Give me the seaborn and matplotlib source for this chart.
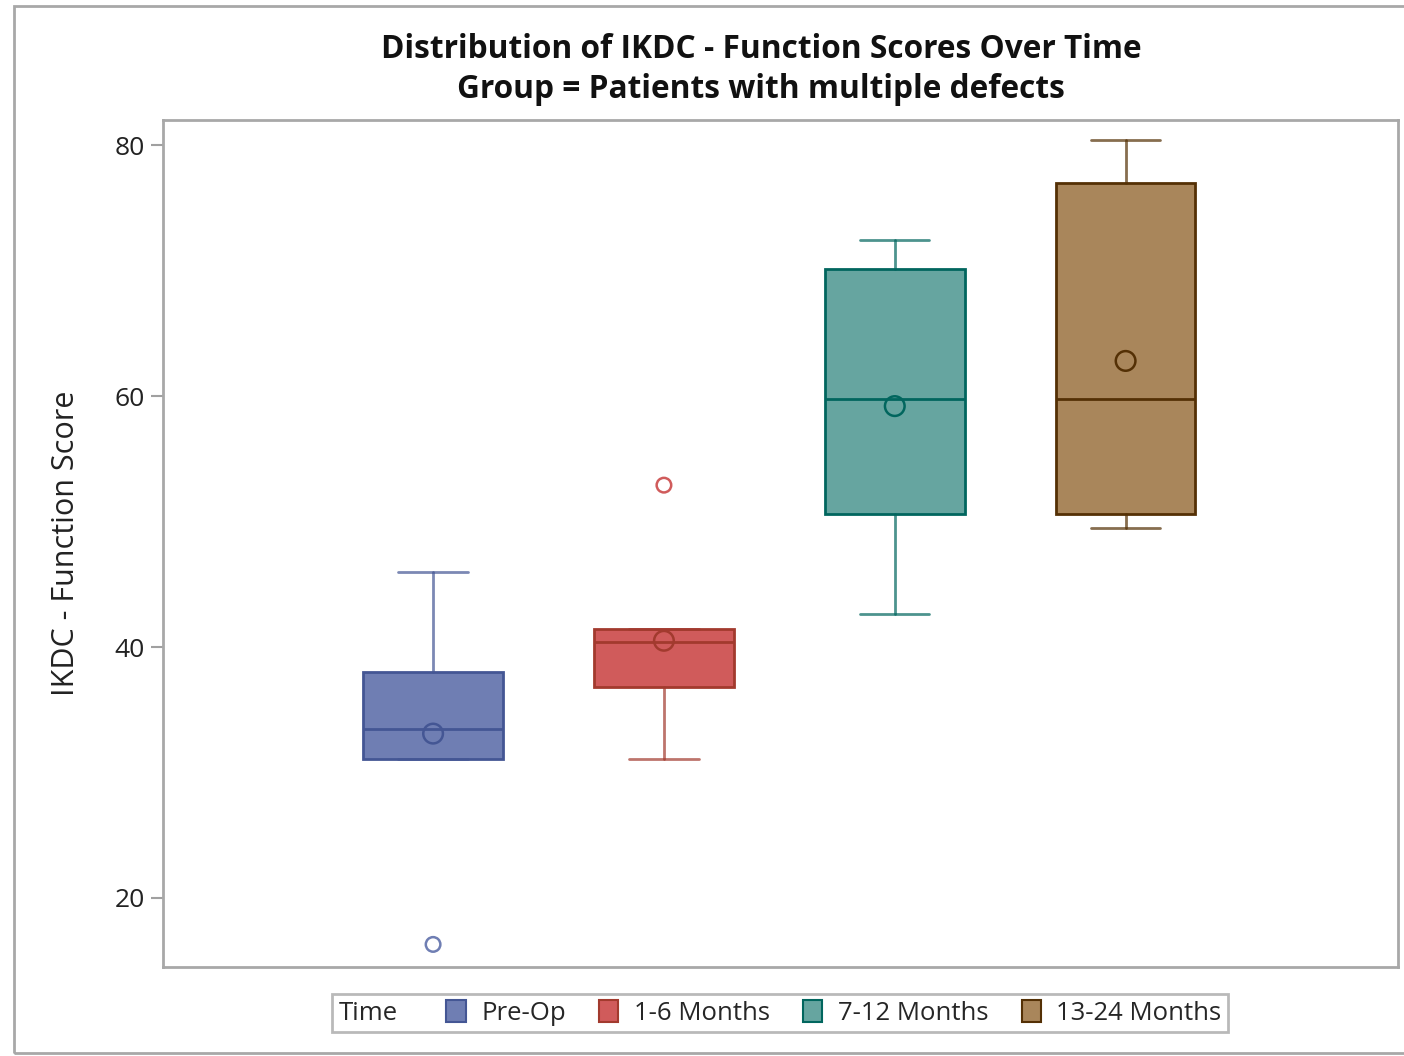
import numpy as np
import matplotlib
matplotlib.use("Agg")
import matplotlib.pyplot as plt
from matplotlib.patches import Patch, Rectangle
from matplotlib.offsetbox import HPacker
import seaborn as sns
import pandas as pd

# Данные
times = ["Pre-Op", "1-6 Months", "7-12 Months", "13-24 Months"]
whisker_low = [31.1, 31.1, 42.6, 49.5]
q1 = [31.1, 36.8, 50.6, 50.6]
median = [33.5, 40.4, 59.8, 59.8]
q3 = [38.0, 41.4, 70.1, 77.0]
whisker_high = [46.0, 41.4, 72.4, 80.4]
means = [33.1, 40.5, 59.2, 62.8]
outlier_time = ["Pre-Op", "1-6 Months"]
outlier_value = [16.3, 52.9]

fill_colors = ["#6F7EB3", "#D05B5B", "#66A5A0", "#A9865B"]
line_colors = ["#445694", "#A23A2E", "#01665E", "#543005"]

sns.set_theme(style="white")
plt.rcParams["font.family"] = ["Open Sans", "DejaVu Sans"]

W, H = 1404, 1056
fig = plt.figure(figsize=(W / 100, H / 100), dpi=100)
ax = fig.add_axes([163 / W, 1 - 967 / H, (1398 - 163) / W, (967 - 120) / H])

# внешняя рамка
fig.patches.append(Rectangle((14 / W, 1 - 1053 / H), 1.2, (1053 - 6) / H,
                             transform=fig.transFigure, fill=False,
                             edgecolor="#A8A8A8", linewidth=2, zorder=0))

positions = np.arange(len(times))
for i, name in enumerate(times):
    st = dict(label=name, whislo=whisker_low[i], q1=q1[i], med=median[i],
              q3=q3[i], whishi=whisker_high[i], fliers=[])
    ax.bxp([st], positions=[positions[i]], widths=0.605, patch_artist=True,
           showmeans=False, showfliers=False,
           boxprops=dict(facecolor=fill_colors[i], edgecolor=line_colors[i], linewidth=2),
           medianprops=dict(color=line_colors[i], linewidth=2),
           whiskerprops=dict(color=line_colors[i], linewidth=2, alpha=0.7),
           capprops=dict(color=line_colors[i], linewidth=2, alpha=0.7),
           capwidths=0.3)

# средние значения (пустые кружки)
mean_df = pd.DataFrame({"pos": positions, "mean": means, "time": times})
sns.scatterplot(data=mean_df, x="pos", y="mean", hue="time", hue_order=times,
                palette=line_colors, marker="o", s=200, linewidth=1.8,
                legend=False, ax=ax, zorder=5)
coll = ax.collections[-1]
coll.set_edgecolors(coll.get_facecolors())
coll.set_facecolor("none")

# выбросы
out_df = pd.DataFrame({"pos": [times.index(t) for t in outlier_time],
                       "value": outlier_value, "time": outlier_time})
sns.scatterplot(data=out_df, x="pos", y="value", hue="time", hue_order=times,
                palette=fill_colors, marker="o", s=110, linewidth=1.8,
                legend=False, ax=ax, zorder=5)
coll = ax.collections[-1]
coll.set_edgecolors(coll.get_facecolors())
coll.set_facecolor("none")

ax.set_xlim(-1.17, 4.18)
ax.set_ylim(14.5, 82.0)
ax.set_xticks([])
ax.set_yticks([20, 40, 60, 80])
ax.tick_params(axis="y", left=True, length=9, width=1.5, color="#A0A0A0",
               labelsize=19, pad=4, labelcolor="#222222")
for s in ax.spines.values():
    s.set_color("#A8A8A8")
    s.set_linewidth(2)
ax.set_ylabel("IKDC - Function Score", fontsize=22, color="#222222", labelpad=24)
ax.set_xlabel("")

fig.text(761 / W, 1 - 50 / H, "Distribution of IKDC - Function Scores Over Time",
         ha="center", va="center", fontsize=22.8, fontweight="bold", color="#111111")
fig.text(761 / W, 1 - 89 / H, "Group = Patients with multiple defects",
         ha="center", va="center", fontsize=22.8, fontweight="bold", color="#111111")

# легенда: заголовок "Time" в одной строке с элементами
fs = 18.5
handles = [Patch(facecolor=f, edgecolor=l, linewidth=1.5)
           for f, l in zip(fill_colors, line_colors)]
leg = fig.legend(handles, times, title="Time", title_fontsize=fs,
                 loc="center", bbox_to_anchor=(780 / W, 1 - 1013 / H),
                 ncol=4, fontsize=fs, frameon=True, fancybox=False,
                 handlelength=0.75, handleheight=0.9, handletextpad=0.6,
                 columnspacing=1.3, borderpad=0.25, borderaxespad=0)
box = HPacker(pad=leg.borderpad * fs, sep=1.9 * fs, align="center",
              children=[leg._legend_title_box, leg._legend_handle_box])
box.set_figure(fig)
box.axes = leg.axes
box.set_offset(leg._findoffset)
leg._legend_box = box
leg.get_frame().set_edgecolor("#A8A8A8")
leg.get_frame().set_linewidth(2)

fig.savefig("out.png", dpi=100)
